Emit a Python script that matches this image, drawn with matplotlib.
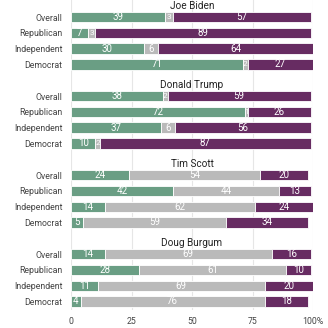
import numpy as np
import matplotlib.pyplot as plt

plt.rcParams['font.family'] = ['Roboto', 'DejaVu Sans']

# Данные
candidates = ['Joe Biden', 'Donald Trump', 'Tim Scott', 'Doug Burgum']
groups = ['Overall', 'Republican', 'Independent', 'Democrat']

favorable = [[39, 7, 30, 71], [38, 72, 37, 10], [24, 42, 14, 5], [14, 28, 11, 4]]
no_opinion = [[3, 3, 6, 2], [2, 1, 6, 2], [54, 44, 62, 59], [69, 61, 69, 76]]
unfavorable = [[57, 89, 64, 27], [59, 26, 56, 87], [20, 13, 24, 34], [16, 10, 20, 18]]

colors = ['#6a9e84', '#bababa', '#672c62']

fig = plt.figure(figsize=(3.28, 3.28), dpi=100)
ax = fig.add_axes([71 / 328, 18 / 328, 242 / 328, 310 / 328])

yticks = []
ylabels = []
for g, name in enumerate(candidates):
    ax.text(50, g * 5 + 0.3, name, ha='center', va='center', fontsize=7.2, color='#222222')
    for r, grp in enumerate(groups):
        y = g * 5 + r + 1
        yticks.append(y)
        ylabels.append(grp)
        left = 0
        for vals, c in zip([favorable, no_opinion, unfavorable], colors):
            v = vals[g][r]
            ax.barh(y, v, left=left, height=0.65, color=c, edgecolor='white', linewidth=0.6, zorder=3)
            fs = 7 if v >= 4 else 6
            ax.text(left + v / 2, y, str(v), ha='center', va='center', color='white', fontsize=fs, zorder=4)
            left += v

ax.set_yticks(yticks)
ax.set_yticklabels(ylabels)
ax.set_ylim(19.54, -0.076)
ax.set_xlim(0, 100)
ax.set_xticks([0, 25, 50, 75, 100])
ax.set_xticklabels(['0', '25', '50', '75', '100%'])
ax.tick_params(axis='both', length=0, labelsize=6.3, colors='#444444')
ax.tick_params(axis='y', pad=6)
ax.tick_params(axis='x', pad=5)
ax.grid(axis='x', color='#e6e6e6', linewidth=0.8, zorder=0)
for s in ax.spines.values():
    s.set_visible(False)

plt.savefig('out.png', dpi=100)
